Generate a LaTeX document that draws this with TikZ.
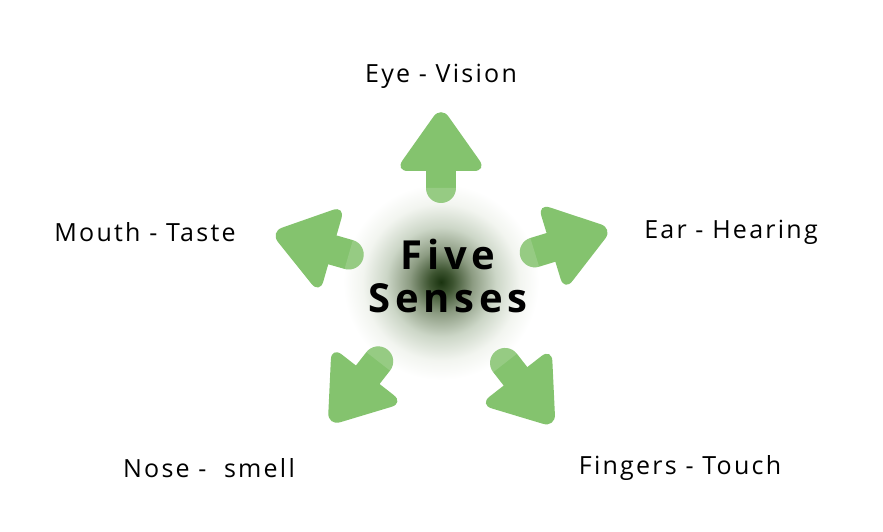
\documentclass[tikz,border=0pt]{standalone}
\usepackage{fontspec}
\setmainfont{Open Sans}
\newfontfamily\labfont[LetterSpace=9]{Open Sans}
\newfontfamily\titlefont[LetterSpace=12]{Open Sans Bold}
\definecolor{arrowgreen}{RGB}{132,195,110}
\pgfdeclareradialshading{glow}{\pgfpoint{0bp}{0bp}}{%
  color(0bp)=(rgb,1:red,0.10;green,0.20;blue,0.06);
  color(3bp)=(rgb,1:red,0.24;green,0.33;blue,0.19);
  color(8bp)=(rgb,1:red,0.55;green,0.61;blue,0.51);
  color(14bp)=(rgb,1:red,0.80;green,0.84;blue,0.78);
  color(20bp)=(rgb,1:red,0.95;green,0.96;blue,0.94);
  color(25bp)=(white);
  color(50bp)=(white)}
\tikzset{
  lab/.style={font=\labfont\fontsize{25}{28}\selectfont, text=black, inner sep=0pt},
  ttl/.style={font=\titlefont\fontsize{40}{44}\selectfont, text=black, inner sep=0pt},
}
% #1 angle, #2 name, #3 apex distance
\newcommand{\sensearrow}[3]{%
  \begin{scope}[shift={(441,251)}, rotate=#1]
    \coordinate (#2) at (#3,0);
    \draw[arrowgreen, line width=30pt, line cap=round] (#3-80,0) -- (#3-50,0);
    \fill[arrowgreen, rounded corners=13pt] (#3-63,15) -- (#3-63,46) -- (#3+2,0) -- (#3-63,-46) -- (#3-63,-15) -- cycle;
    \fill[white, opacity=0.15] (#3-80,15) arc[start angle=90, end angle=270, radius=15] -- cycle;
  \end{scope}}
\begin{document}
\begin{tikzpicture}[x=1pt,y=1pt]
\useasboundingbox (0,0) rectangle (883,532);
\fill[white] (0,0) rectangle (883,532);
\shade[shading=glow] (441,250) circle[radius=98];
\sensearrow{90}{aup}{173}
\sensearrow{17}{aright}{178}
\sensearrow{-52}{alr}{184}
\sensearrow{-128}{all}{182}
\sensearrow{164}{aleft}{176}
\node[ttl] (five) at (448,277) {Five};
\node[ttl] (senses) at (448,234) {Senses};
\node[lab] (eye) at (441,456) {Eye - Vision};
\node[lab] (ear) at (731,300) {Ear - Hearing};
\node[lab] (mouth) at (145,300) {Mouth - Taste};
\node[lab] (nose) at (209,64) {Nose -\ \ smell};
\node[lab] (fingers) at (680,64) {Fingers - Touch};
\end{tikzpicture}
\end{document}
